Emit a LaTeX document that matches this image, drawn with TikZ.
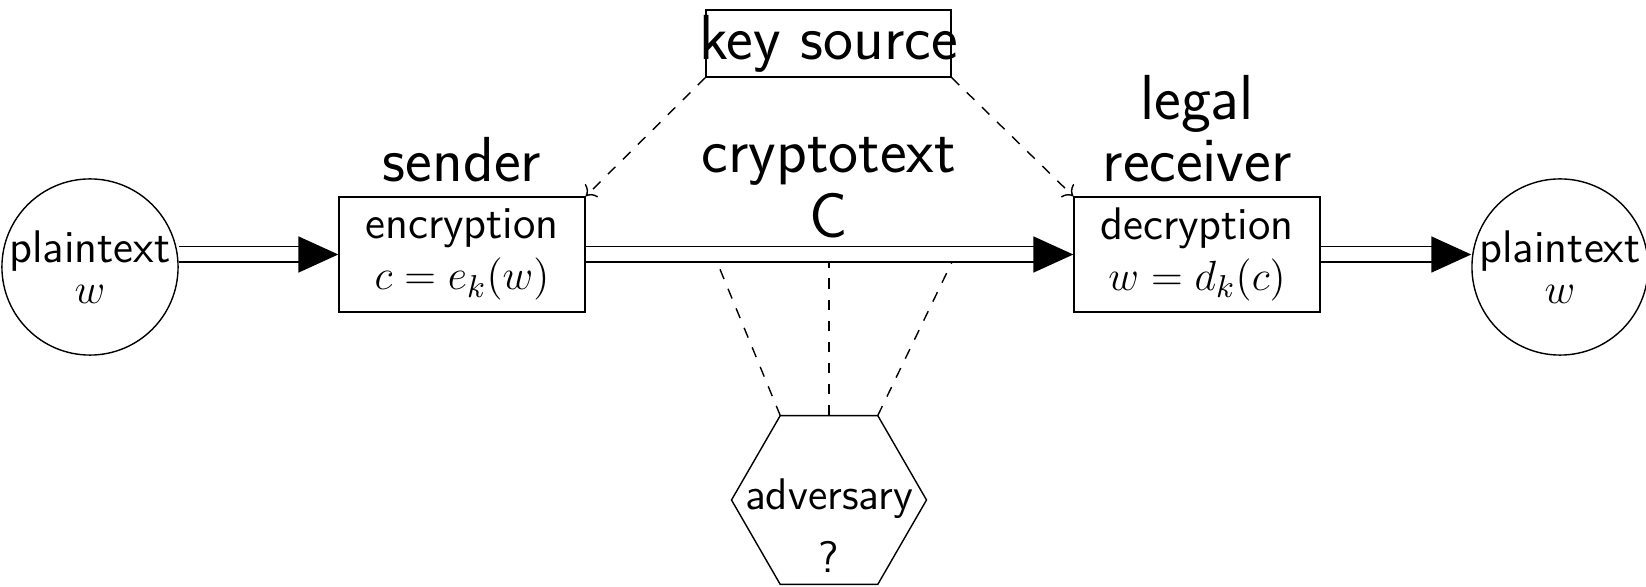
\documentclass[tikz,border=0pt]{standalone}
\usepackage{amsmath}
\usetikzlibrary{arrows.meta,shapes.geometric,positioning}
\renewcommand{\familydefault}{\sfdefault}

\begin{document}
\begin{tikzpicture}[
    box/.style={draw,minimum width=2.46cm,minimum height=1.15cm,inner sep=0pt,align=center,font=\fontsize{13}{14.5}\selectfont},
    txt/.style={circle,draw,minimum size=1.74cm,inner sep=0pt,align=center,font=\fontsize{13}{15}\selectfont},
    big/.style={font=\fontsize{18.1}{18.5}\selectfont,align=center},
    dbl/.style={double,double distance=0.14cm,line width=0.5pt,-{Triangle[length=0.4cm,width=0.36cm]}},
    spy/.style={dashed,line width=0.4pt}]
  \useasboundingbox (0,0) rectangle (16.46,-5.87);
  \node[txt] (P) at (0.90,-2.67) {plaintext\\[-3.5pt]$w$};
  \node[box] (E) at (4.62,-2.545) {encryption\\$c=e_k(w)$};
  \node[box] (D) at (11.97,-2.545) {decryption\\$w=d_k(c)$};
  \node[txt] (Q) at (15.60,-2.67) {plaintext\\[-3.5pt]$w$};
  \node[draw,minimum width=2.45cm,minimum height=0.67cm,inner sep=0pt,
        label={[big]center:key source}] (K) at (8.285,-0.435) {};
  \node[regular polygon,regular polygon sides=6,draw,minimum size=1.95cm,inner sep=0pt,outer sep=0pt,
        label={[yshift=-0.26cm,font=\fontsize{12.6}{18}\selectfont,align=center]center:adversary\\?}] (A) at (8.29,-5.0) {};
  \node[big,above=0.02cm of E] (S) {sender};
  \node[big,above=0.02cm of D] (R) {legal\\[-1pt]receiver};
  \node[big] (C) at (8.29,-1.88) {cryptotext\\C};
  % message flow
  \draw[dbl] (P.east |- E) -- (E.west);
  \draw[dbl] (E) -- (D);
  \draw[dbl] (D) -- (D -| Q.west);
  % keys
  \draw[spy,->] (K.south west) -- (E.north east);
  \draw[spy,->] (K.south east) -- (D.north west);
  % eavesdropping
  \coordinate (t1) at (7.17,-2.62);
  \coordinate (t2) at (8.29,-2.62);
  \coordinate (t3) at (9.52,-2.62);
  \draw[spy] (A.120) -- (t1);
  \draw[spy] (A.north) -- (t2);
  \draw[spy] (A.60) -- (t3);
\end{tikzpicture}
\end{document}
